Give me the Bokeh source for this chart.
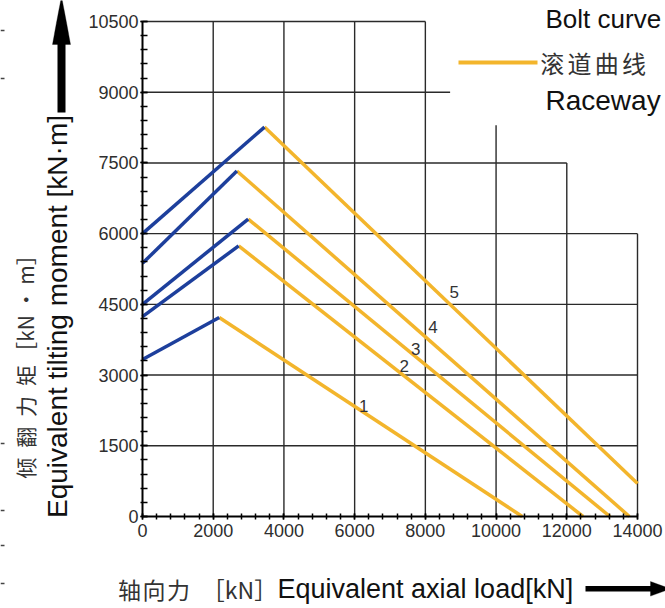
import math
from bokeh.plotting import figure
from bokeh.models import Range1d, Label, Arrow, FixedTicker, ColumnDataSource, PolyAnnotation
from bokeh.core.properties import value
from bokeh.embed import file_html
from bokeh.resources import INLINE

# ---------------- data ----------------
curve_ids = ["1", "2", "3", "4", "5"]
bolt_start_moment = [3330, 4240, 4500, 5370, 6000]      # kN*m at axial load 0
peak_axial = [2170, 2720, 2990, 2670, 3450]             # kN
peak_moment = [4220, 5740, 6310, 7330, 8260]            # kN*m
raceway_end_axial = [10740, 12460, 13220, 13770, 14000] # kN
raceway_end_moment = [0, 0, 0, 0, 700]                  # kN*m
label_axial = [6258, 7399, 7729, 8219, 8813]
label_moment = [2353, 3201, 3555, 4013, 4755]

x_ticks = [0, 2000, 4000, 6000, 8000, 10000, 12000, 14000]
y_ticks = [0, 1500, 3000, 4500, 6000, 7500, 9000, 10500]
x_minor_step = 400
y_minor_step = 300

# stepped (partial) grid of the original drawing
hgrid_y = [1500, 3000, 4500, 6000, 7500, 9000, 10500]
hgrid_x_end = [14000, 14000, 14000, 14000, 12000, 8700, 8000]
vgrid_x = [2000, 4000, 6000, 8000, 10000, 12000, 14000]
vgrid_y_end = [10500, 10500, 10500, 10500, 8300, 7500, 6000]

BLUE = "#1d3f9c"
YELLOW = "#f3b52c"
GRID = "#2a2a2a"

# ---------------- layout helpers (page px -> data units) ----------------
W, H = 665, 608
FR_L, FR_B = 142.0, 516.0          # page position of the (0, 0) corner
SX = 495.0 / 14000.0
SY = 495.0 / 10500.0
def dx(px):
    return (px - FR_L) / SX
def dy(py):
    return (FR_B - py) / SY

p = figure(width=W, height=H,
           x_range=Range1d(dx(0), dx(W)), y_range=Range1d(dy(H), dy(0)),
           output_backend="svg", toolbar_location=None,
           min_border_left=0, min_border_right=0, min_border_top=0, min_border_bottom=0)
p.outline_line_color = None
p.grid.visible = False
p.background_fill_color = "white"
p.border_fill_color = "white"

# axes, drawn at x = 0 / y = 0 inside the canvas
for ax in (p.xaxis[0], p.yaxis[0]):
    ax.fixed_location = 0
    ax.axis_line_color = "black"
    ax.axis_line_width = 2
    ax.major_tick_line_color = "black"
    ax.minor_tick_line_color = "black"
    ax.major_tick_line_width = 1.5
    ax.minor_tick_line_width = 1.5
    ax.major_label_text_font = "Liberation Sans"
    ax.major_label_text_font_size = "18px"
    ax.major_label_text_color = "#2e2e2e"

p.xaxis.ticker = FixedTicker(ticks=x_ticks, minor_ticks=list(range(0, x_ticks[-1] + 1, x_minor_step)))
p.yaxis.ticker = FixedTicker(ticks=y_ticks, minor_ticks=list(range(0, y_ticks[-1] + 1, y_minor_step)))
p.xaxis.bounds = (0, x_ticks[-1])
p.yaxis.bounds = (0, y_ticks[-1])
p.xaxis.major_tick_in = 3
p.xaxis.major_tick_out = 3
p.xaxis.minor_tick_in = 3
p.xaxis.minor_tick_out = 3
p.xaxis.major_label_standoff = 4
p.yaxis.major_tick_in = 5
p.yaxis.major_tick_out = 2
p.yaxis.minor_tick_in = 5
p.yaxis.minor_tick_out = 2
p.yaxis.major_label_standoff = 2

# partial grid
p.segment(x0=[0] * len(hgrid_y), y0=hgrid_y, x1=hgrid_x_end, y1=hgrid_y,
          line_color=GRID, line_width=1.4)
p.segment(x0=vgrid_x, y0=[0] * len(vgrid_x), x1=vgrid_x, y1=vgrid_y_end,
          line_color=GRID, line_width=1.4)

# curves
bolt = ColumnDataSource(dict(
    xs=[[0, pa] for pa in peak_axial],
    ys=[[b, pm] for b, pm in zip(bolt_start_moment, peak_moment)]))
race = ColumnDataSource(dict(
    xs=[[pa, ea] for pa, ea in zip(peak_axial, raceway_end_axial)],
    ys=[[pm, em] for pm, em in zip(peak_moment, raceway_end_moment)]))
p.multi_line("xs", "ys", source=race, line_color=YELLOW, line_width=3.5)
p.multi_line("xs", "ys", source=bolt, line_color=BLUE, line_width=3.5)

p.text(x=label_axial, y=label_moment, text=curve_ids,
       text_font=value("Liberation Sans"), text_font_size="17px",
       text_color="#333333", text_align="center", text_baseline="middle")

# legend (hand-drawn like the original)
p.segment(x0=[dx(458)], y0=[dy(62)], x1=[dx(537)], y1=[dy(62)], line_color=YELLOW, line_width=4)
p.add_layout(Label(x=dx(545), y=dy(18), text="Bolt curve", text_font="Liberation Sans",
                   text_font_size="26px", text_color="#111111", text_baseline="middle"))
p.add_layout(Label(x=dx(545), y=dy(100), text="Raceway", text_font="Liberation Sans",
                   text_font_size="28px", text_color="#111111", text_baseline="middle"))
for i, ch in enumerate("滚道曲线"):
    p.add_layout(Label(x=dx(551.7 + 27.3 * i), y=dy(62), text=ch, text_font="Noto Sans CJK SC",
                       text_font_size="24px", text_color="#333333",
                       text_align="center", text_baseline="middle"))

# y title
p.add_layout(Label(x=dx(57), y=dy(316), text="Equivalent tilting moment [kN·m]", angle=math.pi / 2,
                   text_font="Liberation Sans", text_font_size="28px", text_color="#111111",
                   text_align="center", text_baseline="middle"))
for i, ch in enumerate("倾翻力矩"):
    p.add_layout(Label(x=dx(24), y=dy(467.5 - 30.8 * i), text=ch, angle=math.pi / 2,
                       text_font="Noto Sans CJK SC", text_font_size="21px", text_color="#333333",
                       text_align="center", text_baseline="middle"))
p.add_layout(Label(x=dx(24), y=dy(303), text="［kN • m］", angle=math.pi / 2,
                   text_font="Noto Sans CJK SC", text_font_size="21px", text_color="#333333",
                   text_align="center", text_baseline="middle"))

# x title
for i, ch in enumerate("轴向力"):
    p.add_layout(Label(x=dx(129 + 24.5 * i), y=dy(588), text=ch,
                       text_font="Noto Sans CJK SC", text_font_size="23px", text_color="#333333",
                       text_align="center", text_baseline="middle"))
p.add_layout(Label(x=dx(239), y=dy(588), text="［kN］", text_font="Noto Sans CJK SC",
                   text_font_size="23px", text_color="#333333",
                   text_align="center", text_baseline="middle"))
p.add_layout(Label(x=dx(277), y=dy(588), text="Equivalent axial load[kN]",
                   text_font="Liberation Sans", text_font_size="27px", text_color="#111111",
                   text_baseline="middle"))

# axis arrows
p.add_layout(Arrow(end=None, x_start=dx(61), y_start=dy(112), x_end=dx(61), y_end=dy(38),
                   line_color="black", line_width=8))
p.add_layout(PolyAnnotation(xs=[dx(52), dx(56), dx(61), dx(66), dx(70)],
                            ys=[dy(44), dy(22), dy(-4), dy(22), dy(44)],
                            fill_color="black", fill_alpha=1, line_color="black", line_width=1))
p.add_layout(Arrow(end=None, x_start=dx(585), y_start=dy(588.3), x_end=dx(655), y_end=dy(588.3),
                   line_color="black", line_width=5.5))
p.add_layout(PolyAnnotation(xs=[dx(650), dx(670), dx(650)],
                            ys=[dy(581), dy(588.3), dy(595.6)],
                            fill_color="black", fill_alpha=1, line_color="black", line_width=1))

# small marks along the left edge of the scanned page
edge_marks_py = [30, 78, 443, 510, 545, 583]
p.segment(x0=[dx(0)] * len(edge_marks_py), y0=[dy(v) for v in edge_marks_py],
          x1=[dx(4)] * len(edge_marks_py), y1=[dy(v) for v in edge_marks_py],
          line_color="#444444", line_width=1.5)

open("out.html", "w").write(file_html(p, INLINE))
